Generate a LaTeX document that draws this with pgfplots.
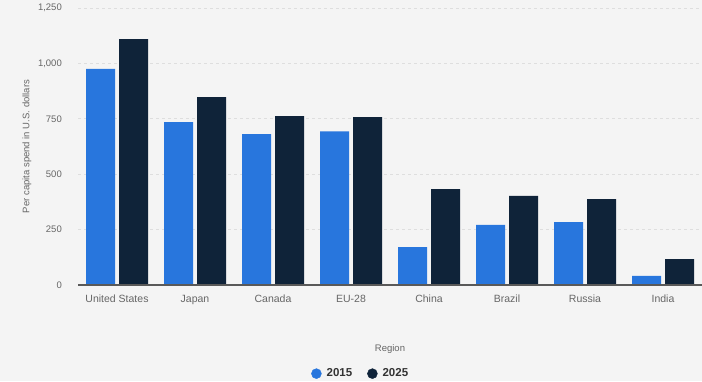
\documentclass[border=0pt]{standalone}
\usepackage{pgfplots}
\pgfplotsset{compat=1.18}
\usepackage{fontspec}
\setmainfont{Liberation Sans}
\definecolor{bgcol}{HTML}{F4F4F4}
\definecolor{gridcol}{HTML}{DEDEDE}
\definecolor{cA}{HTML}{2876DD}
\definecolor{cB}{HTML}{0F2339}
\definecolor{txtcol}{HTML}{666666}
\definecolor{legcol}{HTML}{333333}
\begin{document}
\begin{tikzpicture}
\fill[bgcol] (0,0) rectangle (702pt,381pt);
\useasboundingbox (0,0) rectangle (702pt,381pt);
\begin{axis}[
  at={(78pt,96pt)}, anchor=south west,
  scale only axis, width=624pt, height=277pt,
  xmin=-0.5, xmax=7.5, ymin=0, ymax=1250,
  axis x line*=bottom, axis y line*=left, axis line style={draw=none},
  ybar, bar width=29pt,
  xtick={0,1,2,3,4,5,6,7},
  xticklabels={United States,Japan,Canada,EU-28,China,Brazil,Russia,India},
  ytick={0,250,500,750,1000,1250},
  major tick length=0pt,
  /pgf/number format/.cd, 1000 sep={,}, assume math mode=true, /pgfplots/.cd,
  ymajorgrids, grid style={gridcol, dashed, line width=0.6pt},
  tick label style={font=\fontsize{10}{12}\selectfont, text=txtcol},
  xticklabel style={anchor=north, inner sep=0pt, yshift=-10pt, font=\fontsize{10.5}{12}\selectfont},
  yticklabel style={anchor=east, inner sep=0pt, xshift=-16pt, font=\fontsize{9.5}{12}\selectfont},
  ylabel={Per capita spend in U.S. dollars},
  ylabel style={at={(axis description cs:-0.0817,0.5)}, anchor=center, font=\fontsize{9.5}{12}\selectfont, text=txtcol},
  xlabel={Region},
  xlabel style={at={(axis description cs:0.5,-0.231)}, anchor=center, font=\fontsize{9.5}{12}\selectfont, text=txtcol},
  legend style={at={(axis description cs:0.3686,-0.32)}, anchor=west, draw=none, fill=none,
    legend columns=2, font=\bfseries\fontsize{11.5}{13}\selectfont, text=legcol,
    /tikz/every odd column/.append style={column sep=4pt},
    /tikz/every even column/.append style={column sep=14pt},
    nodes={inner sep=1pt}},
  legend cell align=left,
]
\addplot[forget plot, fill=cA, draw=none, bar shift=-16.5pt] coordinates {(0,975) (1,735) (2,681) (3,693) (4,171) (5,271) (6,284) (7,41)};
\addplot[forget plot, fill=cB, draw=none, bar shift=16.5pt] coordinates {(0,1110) (1,848) (2,762) (3,758) (4,433) (5,402) (6,388) (7,117)};
\addlegendimage{legend image code/.code={\fill[cA] (5pt,0pt) circle (5pt);}}
\addlegendentry{2015}
\addlegendimage{legend image code/.code={\fill[cB] (5pt,0pt) circle (5pt);}}
\addlegendentry{2025}
\draw[black!65, line width=1.3pt] (axis cs:-0.5,0) -- (axis cs:7.5,0);
\end{axis}
\end{tikzpicture}
\end{document}
